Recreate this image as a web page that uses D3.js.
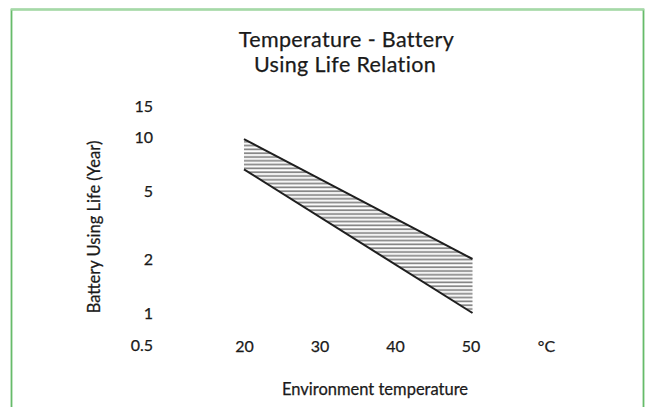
<!DOCTYPE html>
<html>
<head>
<meta charset="utf-8">
<script src="https://cdn.jsdelivr.net/npm/d3@7"></script>
<style>
  html, body { margin: 0; padding: 0; background: #fff; }
  svg { display: block; }
  text { font-family: Lato, "Open Sans", sans-serif; fill: #1a1a1a; stroke: #1a1a1a; stroke-width: 0.25px; }
</style>
</head>
<body>
<svg id="chart" width="646" height="407"></svg>
<script>
// ---- data ----
const titleLines = ["Temperature - Battery", "Using Life Relation"];
const xLabel = "Environment temperature";
const yLabel = "Battery Using Life (Year)";
const temperatures = [20, 50];           // °C
const lifeUpper = [9.8, 2];              // years
const lifeLower = [7, 1];                // years
const xTickValues = [20, 30, 40, 50, 60];
const xTickLabels = ["20", "30", "40", "50", "°C"];
const yTickValues = [0.5, 1, 2, 5, 10, 15];
const yTickLabels = ["0.5", "1", "2", "5", "10", "15"];

const svg = d3.select("#chart");

// frame
svg.append("rect").attr("x", 11.5).attr("y", 9.5).attr("width", 632).attr("height", 420)
  .attr("fill", "none").attr("stroke", "#66bb6a").attr("stroke-width", 1.8);
svg.append("line").attr("x1", 11).attr("x2", 644).attr("y1", 9.5).attr("y2", 9.5)
  .attr("stroke", "#a5d9a7").attr("stroke-width", 2);

// scales
const x = d3.scaleLinear().domain([20, 50]).range([244, 472.5]);
// the printed value axis is near-logarithmic; positions follow the printed tick marks
const y = d3.scaleLinear().domain(yTickValues).range([345, 313, 259, 191, 137, 106]);

// hatch pattern
const defs = svg.append("defs");
const pat = defs.append("pattern").attr("id", "hatch").attr("patternUnits", "userSpaceOnUse")
  .attr("width", 8).attr("height", 3.8);
pat.append("rect").attr("width", 8).attr("height", 3.8).attr("fill", "#fff");
pat.append("line").attr("x1", 0).attr("x2", 8).attr("y1", 1.2).attr("y2", 1.2)
  .attr("stroke", "#808080").attr("stroke-width", 1.7);

const band = temperatures.map((t, i) => ({ t, hi: lifeUpper[i], lo: lifeLower[i] }));

svg.append("path").datum(band)
  .attr("d", d3.area().x(d => x(d.t)).y0(d => y(d.lo)).y1(d => y(d.hi)))
  .attr("fill", "url(#hatch)");

const lineHi = d3.line().x(d => x(d.t)).y(d => y(d.hi));
const lineLo = d3.line().x(d => x(d.t)).y(d => y(d.lo));
svg.append("path").datum(band).attr("d", lineHi).attr("fill", "none")
  .attr("stroke", "#1e1e1e").attr("stroke-width", 2);
svg.append("path").datum(band).attr("d", lineLo).attr("fill", "none")
  .attr("stroke", "#1e1e1e").attr("stroke-width", 2);

// axes (labels only)
const yAxis = d3.axisLeft(y).tickValues(yTickValues).tickSize(0).tickPadding(0)
  .tickFormat((d, i) => yTickLabels[i]);
const gy = svg.append("g").attr("transform", "translate(153,0)").call(yAxis);
gy.select(".domain").remove();
gy.selectAll("text").style("font-family", "Lato, 'Open Sans', sans-serif")
  .style("font-size", "16px").attr("fill", "#1a1a1a");

const xAxisScale = x.copy().domain([20, 60]).range([244, 546]);
const xAxis = d3.axisBottom(xAxisScale).tickValues(xTickValues).tickSize(0).tickPadding(0)
  .tickFormat((d, i) => xTickLabels[i]);
const gx = svg.append("g").attr("transform", "translate(0,341)").call(xAxis);
gx.select(".domain").remove();
gx.selectAll("text").style("font-family", "Lato, 'Open Sans', sans-serif")
  .style("font-size", "16px").attr("fill", "#1a1a1a");

// titles
svg.append("text").attr("x", 346.5).attr("y", 46.5).attr("text-anchor", "middle")
  .style("font-size", "21.5px").style("letter-spacing", "0.35px").text(titleLines[0]);
svg.append("text").attr("x", 345).attr("y", 72).attr("text-anchor", "middle")
  .style("font-size", "21.5px").style("letter-spacing", "0.35px").text(titleLines[1]);

svg.append("text").attr("x", 375).attr("y", 395).attr("text-anchor", "middle")
  .style("font-size", "16.5px").text(xLabel);

svg.append("text").attr("transform", "translate(100,227) rotate(-90)").attr("text-anchor", "middle")
  .style("font-size", "16.5px").text(yLabel);
</script>
</body>
</html>
